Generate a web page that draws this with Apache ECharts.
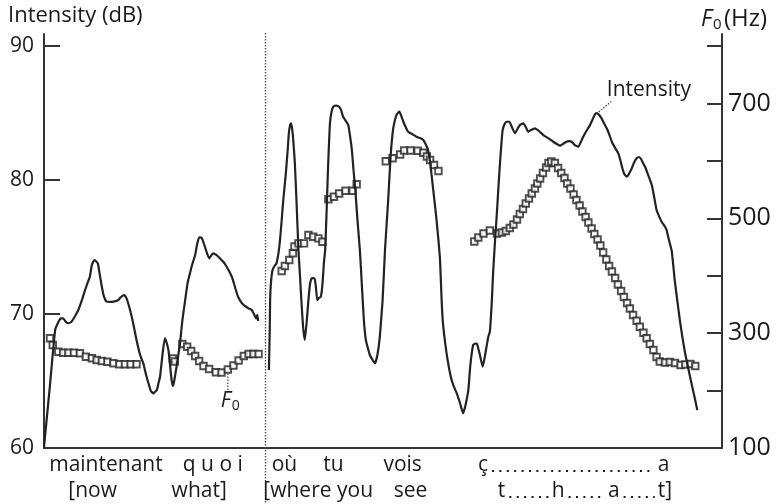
<!DOCTYPE html>
<html>
<head>
<meta charset="utf-8">
<script src="https://cdn.jsdelivr.net/npm/echarts@6/dist/echarts.min.js"></script>
<style>
  html, body { margin: 0; padding: 0; background: #fff; }
  #chart { width: 776px; height: 504px; }
</style>
</head>
<body>
<div id="chart"></div>
<script>
// Time axis in ms; intensity in dB (left axis), F0 in Hz (right axis).

// Intensity contour, "maintenant quoi"
const intensityA = [
  [0,60.07],[15,64.7],[28,68.81],[36,69.40],[42,69.68],[48,69.68],[55,69.40],[61,69.31],[69,69.43],[78,69.85],
  [86,70.30],[95,71.04],[103,71.79],[110,72.39],[115,72.78],[120,73.66],[126,74.03],[130,73.96],[135,73.78],[140,72.91],
  [145,72.04],[150,71.34],[157,70.92],[166,70.90],[174,70.92],[181,70.97],[186,71.04],[193,71.27],[201,71.42],[207,71.17],
  [213,70.60],[220,69.80],[226,68.96],[232,68.06],[241,66.94],[249,66.32],[256,65.45],[262,64.83],[268,64.25],[274,64.08],
  [278,64.18],[283,64.33],[287,64.83],[291,65.32],[297,66.94],[303,68.19],[307,67.91],[312,67.31],[316,66.19],[320,65.07],
  [323,64.63],[326,64.93],[331,65.82],[336,66.79],[341,67.81],[347,69.55],[354,71.04],[360,72.31],[366,73.04],[372,73.73],
  [379,74.40],[384,75.22],[389,75.72],[394,75.71],[398,75.52],[406,74.78],[414,74.16],[420,74.40],[424,74.53],[433,74.40],
  [441,74.16],[450,73.88],[458,73.53],[464,73.21],[471,72.78],[476,72.31],[481,71.79],[486,71.34],[491,71.04],[496,70.82],
  [501,70.67],[508,70.52],[512,70.43],[517,70.37],[521,70.30],[525,70.07],[529,69.85],[532,69.66],[535,69.93],[537,69.48]
];

// Intensity contour, "où tu vois ça"
const intensityB = [
  [564,65.82],[566,68.81],[567,71.04],[569,72.31],[573,73.28],[578,73.58],[583,73.78],[589,74.78],[594,76.27],[600,78.51],
  [606,80.37],[611,82.24],[614,83.51],[617,84.10],[619,84.23],[622,83.88],[625,82.99],[629,81.25],[633,78.51],[638,74.78],
  [642,72.78],[646,70.67],[650,68.93],[654,68.06],[659,69.55],[663,71.04],[667,72.24],[671,72.66],[676,72.69],[679,72.59],
  [682,71.94],[685,71.04],[689,71.19],[694,71.29],[698,72.16],[702,73.88],[705,74.78],[709,78.01],[712,80.75],[717,84.23],
  [722,85.22],[727,85.52],[733,85.56],[740,85.47],[745,85.22],[750,84.72],[757,84.40],[763,84.10],[767,83.36],[772,82.24],
  [776,80.75],[780,79.50],[786,77.01],[792,74.78],[797,72.16],[802,69.55],[807,68.06],[812,67.46],[817,66.94],[824,66.57],
  [830,66.32],[836,66.94],[842,68.31],[849,71.04],[855,74.78],[863,78.51],[869,81.74],[875,83.73],[880,84.48],[885,84.93],
  [891,85.10],[895,84.85],[901,84.35],[908,83.88],[913,83.60],[923,83.43],[934,83.23],[943,83.13],[951,82.99],[958,82.61],
  [963,82.24],[969,81.12],[976,79.25],[983,77.39],[989,75.52],[993,74.03],[997,71.04],[1000,69.43],[1005,68.06],[1012,66.57],
  [1020,65.32],[1027,64.63],[1035,64.08],[1043,63.36],[1051,62.59],[1057,63.21],[1064,64.33],[1069,66.19],[1076,67.69],[1082,67.80],
  [1086,67.76],[1093,66.94],[1100,66.07],[1106,66.94],[1114,68.31],[1118,68.68],[1123,71.04],[1126,73.04],[1131,75.52],[1136,77.76],
  [1139,79.25],[1143,81.12],[1147,82.76],[1150,83.73],[1155,84.18],[1160,84.35],[1167,84.35],[1173,83.96],[1181,83.49],[1187,83.81],
  [1193,84.10],[1202,84.23],[1208,83.96],[1214,83.60],[1221,83.73],[1231,83.86],[1241,83.66],[1252,83.36],[1264,83.13],[1277,82.86],
  [1286,82.69],[1294,82.56],[1301,82.69],[1310,82.86],[1316,82.91],[1323,82.86],[1331,82.61],[1340,82.49],[1346,82.84],[1352,83.23],
  [1360,83.66],[1369,84.10],[1376,84.55],[1381,84.89],[1386,85.00],[1391,84.89],[1398,84.60],[1404,84.25],[1411,83.86],[1417,83.43],
  [1424,82.84],[1432,82.39],[1440,81.99],[1445,81.49],[1450,80.90],[1455,80.45],[1461,80.26],[1465,80.37],[1469,80.60],[1473,80.82],
  [1479,81.27],[1486,81.62],[1492,81.72],[1497,81.57],[1502,81.27],[1507,80.99],[1514,80.45],[1524,79.63],[1529,78.88],[1536,77.76],
  [1542,77.31],[1549,76.87],[1556,76.57],[1561,76.27],[1567,75.52],[1574,74.70],[1582,72.39],[1595,69.40],[1607,67.16],[1620,65.30],
  [1630,63.96],[1638,62.84]
];

// F0 measurements (Hz), one array per voiced stretch
const f0Maintenant = [[15,291.0],[22,279.3],[36,267.7],[48,265.9],[61,265.9],[75,265.9],[90,264.9],[105,259.0],[120,256.2],
  [132,253.2],[145,251.5],[159,250.3],[174,247.5],[189,245.8],[203,245.8],[217,245.8],[232,245.8]];
const f0QuoiOnset = [[323,255.8],[328,250.6]];
const f0Quoi = [[347,281.1],[359,276.4],[369,268.9],[379,260.2],[389,251.5],[400,242.8],[414,237.6],[431,231.8],[445,231.5],
  [461,236.7],[475,243.6],[488,252.4],[501,260.2],[513,263.7],[525,263.7],[538,263.7]];
const f0Ou = [[596,408.2],[604,416.9],[615,427.4],[624,439.0],[628,450.9],[638,456.4],[652,456.4],[663,470.9],[675,467.9],
  [688,465.1],[698,459.2]];
const f0Tu = [[713,533.1],[727,537.6],[740,543.2],[756,548.0],[774,548.0],[784,559.2]];
const f0Vois = [[857,599.4],[874,604.6],[893,611.1],[903,618.0],[919,618.0],[937,617.7],[951,614.2],[960,607.6],[968,601.5],
  [978,592.8],[989,582.3]];
const f0Ca = [[1079,459.6],[1089,466.5],[1102,473.5],[1118,478.7],[1136,473.5],[1148,475.2],[1158,477.8],[1168,483.1],[1177,489.2],
  [1186,497.9],[1193,507.4],[1201,516.1],[1208,525.7],[1216,534.4],[1223,543.1],[1231,551.8],[1237,560.5],[1244,569.2],[1251,578.8],
  [1259,588.4],[1265,596.2],[1272,598.9],[1281,596.2],[1289,587.5],[1297,578.8],[1305,570.1],[1312,560.5],[1320,551.8],[1328,541.4],
  [1335,531.8],[1343,522.2],[1350,511.8],[1358,502.2],[1365,492.6],[1373,482.2],[1380,472.6],[1388,463.0],[1395,452.6],[1402,440.4],
  [1410,428.2],[1417,416.9],[1424,407.3],[1432,396.0],[1439,384.7],[1447,373.4],[1454,363.0],[1462,352.5],[1469,342.9],[1477,331.6],
  [1486,321.6],[1494,311.2],[1503,300.8],[1511,291.0],[1519,281.1],[1528,270.6],[1536,258.4],[1544,250.6],[1557,248.9],[1569,249.7],
  [1582,248.0],[1596,244.5],[1608,245.4],[1621,246.3],[1633,242.8]];

// Axis ticks and labels
const dbTicks = [60, 70, 80, 90];
const hzTicks = [100, 200, 300, 400, 500, 600, 700, 800];
const hzLabels = [100, 300, 500, 700];

// Boundary between the two utterances (ms)
const utteranceBoundary = 554;

// Transcription lines with onset times (ms)
const wordsFr = ['maintenant', 'q u o i', 'où', 'tu', 'vois', 'ç', 'a'];
const wordsFrAt = [13, 348, 571, 700, 851, 1088, 1539];
const wordsEn = ['[now', 'what]', '[where you', 'see', 't', 'h', 'a', 't]'];
const wordsEnAt = [61, 320, 550, 877, 1138, 1273, 1414, 1539];
// pairs of word indices joined by a dotted continuation
const dottedFr = [[5, 6]];
const dottedEn = [[4, 5], [5, 6], [6, 7]];

// Annotated points: intensity peak and an F0 sample
const intensityNote = { text: 'Intensity', at: [1386, 85.00] };
const f0Note = { at: [461, 236.7] };

const FONT = '"Open Sans", "DejaVu Sans", sans-serif';
const INK = '#1a1a1a';
const AXIS = '#333';

const chart = echarts.init(document.getElementById('chart'), null, { renderer: 'canvas' });

const f0Groups = [f0Maintenant, f0QuoiOnset, f0Quoi, f0Ou, f0Tu, f0Vois, f0Ca];

const f0Series = f0Groups.map(g => ({
  type: 'scatter',
  yAxisIndex: 1,
  data: g,
  symbol: 'rect',
  symbolSize: 6.5,
  itemStyle: { color: '#fff', borderColor: '#232323', borderWidth: 1.9 },
  z: 3,
  silent: true
}));

const intensitySeries = [intensityA, intensityB].map(d => ({
  type: 'line',
  yAxisIndex: 0,
  data: d,
  showSymbol: false,
  smooth: 0.15,
  lineStyle: { color: '#222', width: 2.2 },
  z: 4,
  silent: true
}));

chart.setOption({
  animation: false,
  backgroundColor: '#fff',
  grid: { left: 44, right: 54, top: 34, bottom: 56, containLabel: false },
  xAxis: {
    type: 'value', min: 0, max: 1700,
    axisLine: { show: true, onZero: false, lineStyle: { color: AXIS, width: 2 } },
    axisTick: { show: false }, axisLabel: { show: false }, splitLine: { show: false }
  },
  yAxis: [
    {
      type: 'value', position: 'left', min: 60, max: 90.9,
      axisLine: { show: true, lineStyle: { color: AXIS, width: 2 } },
      axisTick: { show: true, inside: true, length: 16, customValues: dbTicks, lineStyle: { color: AXIS, width: 2 } },
      axisLabel: { customValues: dbTicks, margin: 10, fontSize: 21, fontFamily: FONT, color: INK },
      splitLine: { show: false }
    },
    {
      type: 'value', position: 'right', min: 100, max: 820.9,
      axisLine: { show: true, lineStyle: { color: AXIS, width: 2 } },
      axisTick: { show: true, inside: true, length: 15, customValues: hzTicks, lineStyle: { color: AXIS, width: 2 } },
      axisLabel: { customValues: hzLabels, margin: 6, fontSize: 25, fontFamily: FONT, color: INK },
      splitLine: { show: false }
    }
  ],
  series: [...f0Series, ...intensitySeries]
});

// ---- overlay text and leaders positioned through the axes ----
const xPx = t => chart.convertToPixel({ xAxisIndex: 0 }, t);
const ptPx = (p, yi) => chart.convertToPixel({ xAxisIndex: 0, yAxisIndex: yi }, p);

const measure = document.createElement('canvas').getContext('2d');
const textWidth = (s, size) => { measure.font = size + 'px ' + FONT; return measure.measureText(s).width; };

const graphics = [];
const txt = (s, x, y, size, extra) => graphics.push({
  type: 'text', silent: true, z: 10,
  style: Object.assign({ text: s, x, y, fill: INK, fontSize: size, fontFamily: FONT,
    textAlign: 'left', textVerticalAlign: 'middle' }, extra || {})
});
const dots = (x1, x2, y) => graphics.push({
  type: 'line', silent: true, z: 10,
  shape: { x1, y1: y, x2, y2: y },
  style: { stroke: INK, lineWidth: 2, lineDash: [2, 5.4] }
});

// axis titles
txt('Intensity (dB)', 8, 16, 22);
txt('F', 701, 19, 23, { fontStyle: 'italic' });
txt('0', 713, 25, 15);
txt('(Hz)', 724, 19, 24);

// utterance boundary
const bx = Math.round(xPx(utteranceBoundary)) + 0.5;
graphics.push({
  type: 'line', silent: true, z: 1,
  shape: { x1: bx, y1: 33, x2: bx, y2: 504 },
  style: { stroke: '#555', lineWidth: 1.4, lineDash: [1.5, 1.5] }
});

// transcription rows
function row(words, at, joins, yMid, yDots) {
  const xs = at.map(xPx);
  words.forEach((w, i) => txt(w, xs[i], yMid, 21));
  joins.forEach(([a, b]) => {
    const start = xs[a] + textWidth(words[a], 21) + 4;
    const end = xs[b] - 3;
    dots(start, end, yDots);
  });
}
row(wordsFr, wordsFrAt, dottedFr, 465, 471);
row(wordsEn, wordsEnAt, dottedEn, 491, 497);

// "Intensity" callout
const ip = ptPx(intensityNote.at, 0);
graphics.push({
  type: 'line', silent: true, z: 10,
  shape: { x1: ip[0] + 2, y1: ip[1] - 1, x2: ip[0] + 15, y2: ip[1] - 12 },
  style: { stroke: '#444', lineWidth: 1.2, lineDash: [1.5, 1.5] }
});
txt(intensityNote.text, ip[0] + 10, ip[1] - 23, 21);

// F0 callout
const fp = ptPx(f0Note.at, 1);
graphics.push({
  type: 'line', silent: true, z: 10,
  shape: { x1: fp[0], y1: fp[1] + 4, x2: fp[0], y2: fp[1] + 22 },
  style: { stroke: '#444', lineWidth: 1.2, lineDash: [1.5, 1.5] }
});
txt('F', fp[0] - 7, fp[1] + 32, 21, { fontStyle: 'italic' });
txt('0', fp[0] + 4, fp[1] + 37, 14);

chart.setOption({ graphic: graphics });
</script>
</body>
</html>
